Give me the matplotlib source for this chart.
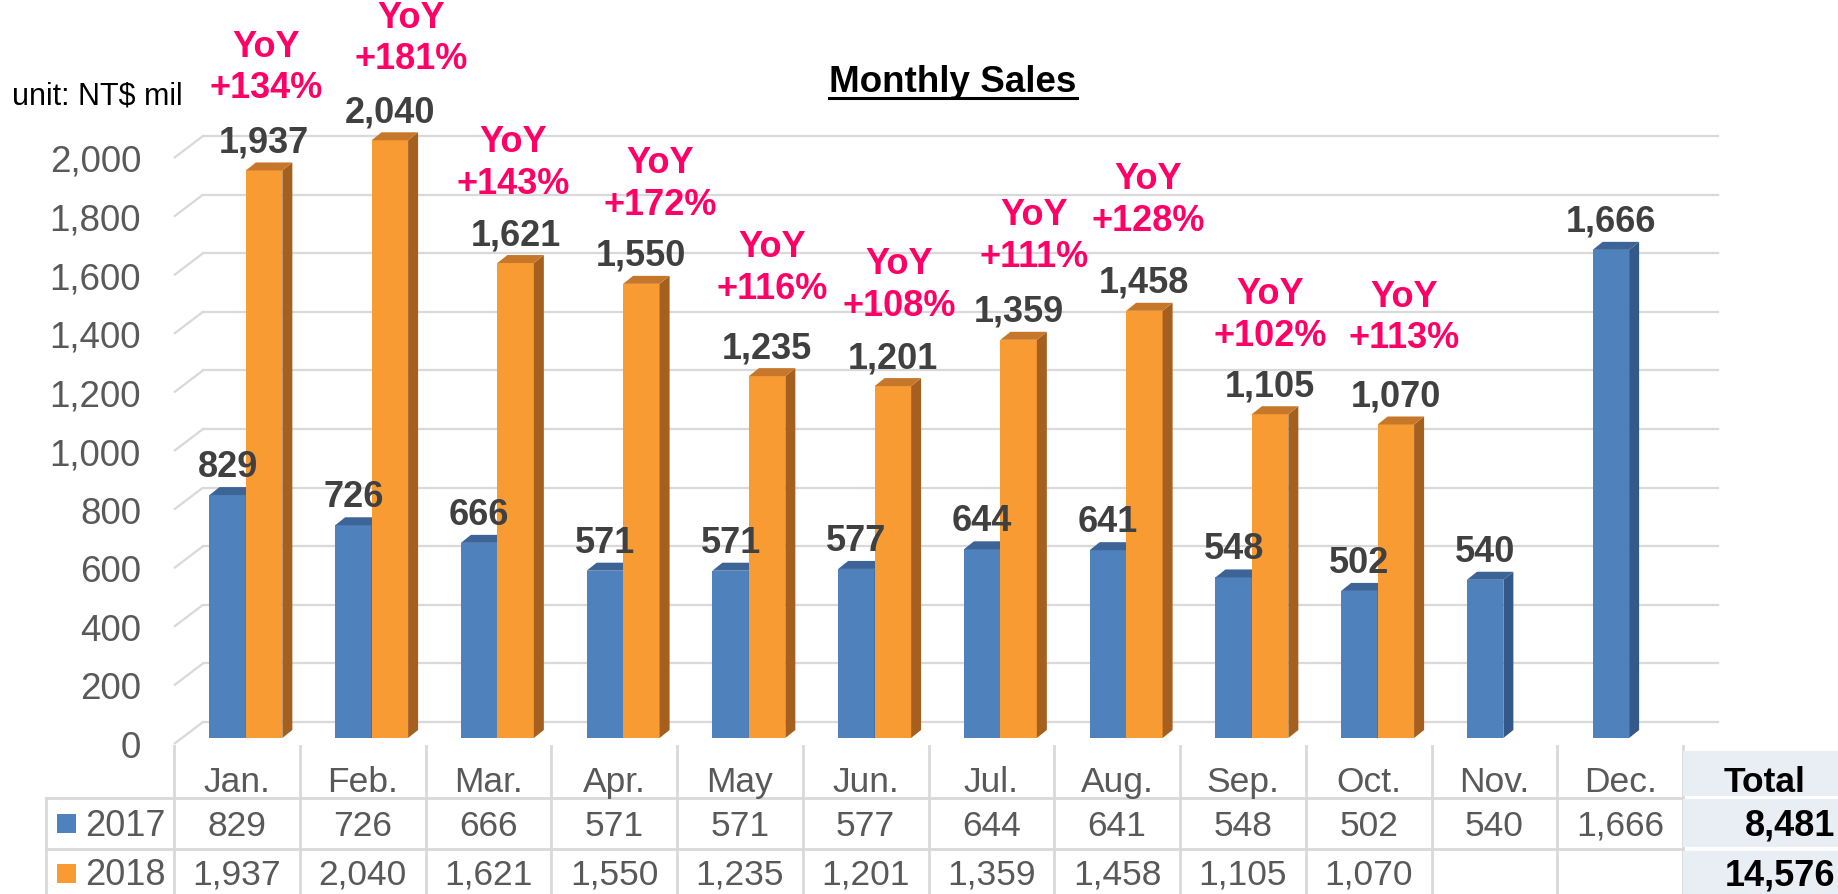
import numpy as np
import matplotlib
matplotlib.use('Agg')
import matplotlib.pyplot as plt
from matplotlib.patches import Polygon, Rectangle

plt.rcParams['font.family'] = ['Liberation Sans', 'DejaVu Sans']

months = ['Jan.', 'Feb.', 'Mar.', 'Apr.', 'May', 'Jun.', 'Jul.', 'Aug.', 'Sep.', 'Oct.', 'Nov.', 'Dec.']
sales_2017 = [829, 726, 666, 571, 571, 577, 644, 641, 548, 502, 540, 1666]
sales_2018 = [1937, 2040, 1621, 1550, 1235, 1201, 1359, 1458, 1105, 1070]
yoy_pct = [134, 181, 143, 172, 116, 108, 111, 128, 102, 113]
yticks = np.arange(0, 2001, 200)

# hand placed YoY boxes in the original (px nudges)
yoy_dx = [2, 21, -2, 19, 5, 6, 16, 4, 0, 8]
yoy_dy = [75, 74, 72, 72, 80, 73, 76, 83, 71, 79]

W, H = 1838, 895
PT = 0.72  # points per px at dpi 100

blue, blue_side, blue_top = '#4F81BD', '#345887', '#3C6497'
orng, orng_side, orng_top = '#F99B33', '#A5601F', '#C7772A'
grid_c = '#D9D9D9'
txt_c = '#595959'
lbl_c = '#404040'
yoy_c = '#FF0066'

fig = plt.figure(figsize=(W / 100, H / 100), dpi=100)

# pixel layer for the table and texts (y down)
lay = fig.add_axes([0, 0, 1, 1], zorder=0)
lay.set_xlim(0, W)
lay.set_ylim(H, 0)
lay.axis('off')

# chart layer: x in month columns, y in NT$ mil on the front plane
ax = fig.add_axes([0, 0, 1, 1], zorder=1)
ax.patch.set_alpha(0)
x0, colw = 174, 125.75
y0, vs = 745, 0.293
ax.set_xlim(-x0 / colw, (W - x0) / colw)
ax.set_ylim((y0 - H) / vs, y0 / vs)
ax.axis('off')

wdx, wdy = 29 / colw, 22 / vs      # back wall depth
bdx, bdy = 9 / colw, 6 / vs        # bars sit a bit behind the front edge
sdx, sdy = 10 / colw, 8 / vs       # bar thickness
w = 0.29
xend = (1718 - x0) / colw

# gridlines on the back wall + slanted side edge
for v in yticks:
    ax.plot([0, wdx], [v, v + wdy], color=grid_c, lw=1.6, zorder=1, solid_capstyle='butt')
    ax.plot([wdx, xend], [v + wdy, v + wdy], color=grid_c, lw=1.6, zorder=1)
    ax.annotate(f'{v:,}', (-33 / colw, v), xytext=(0, -13 * PT), textcoords='offset points',
                ha='right', va='baseline', fontsize=26.5, color=txt_c)

idx = np.arange(len(months))
x17 = idx + 0.5 - w + bdx
x18 = idx[:len(sales_2018)] + 0.5 + bdx


def bars3d(xl, vals, front, side, top, z):
    ax.bar(xl, vals, width=w, bottom=bdy, align='edge', color=front, zorder=z)
    for l, v in zip(xl, vals):
        r, b, t = l + w, bdy, bdy + v
        ax.add_patch(Polygon([(r, b), (r + sdx, b + sdy), (r + sdx, t + sdy), (r, t)],
                             closed=True, fc=side, ec='none', zorder=z))
        ax.add_patch(Polygon([(l, t), (r, t), (r + sdx, t + sdy), (l + sdx, t + sdy)],
                             closed=True, fc=top, ec='none', zorder=z))
        ax.annotate(f'{v:,}', (l + w / 2, t), xytext=(0, 19 * PT), textcoords='offset points',
                    ha='center', va='baseline', fontsize=26, fontweight='bold', color=lbl_c, zorder=6)


bars3d(x17, sales_2017, blue, blue_side, blue_top, 3)
bars3d(x18, sales_2018, orng, orng_side, orng_top, 4)

for i, p in enumerate(yoy_pct):
    xc, t = x18[i] + w / 2, bdy + sales_2018[i]
    up = 32 + yoy_dy[i]
    ax.annotate(f'+{p}%', (xc, t), xytext=(yoy_dx[i] * PT, (up - 20.75 - 13) * PT),
                textcoords='offset points', ha='center', va='baseline',
                fontsize=26, fontweight='bold', color=yoy_c, zorder=6)
    ax.annotate('YoY', (xc, t), xytext=(yoy_dx[i] * PT, (up + 20.75 - 13) * PT),
                textcoords='offset points', ha='center', va='baseline',
                fontsize=26, fontweight='bold', color=yoy_c, zorder=6)

# title and unit
title = lay.text(953, 92, 'Monthly Sales', ha='center', va='baseline', fontsize=26.5, fontweight='bold')
lay.text(12, 104, 'unit: NT$ mil', ha='left', va='baseline', fontsize=22, color='black')

# data table
tl = 46
lay.plot([tl, x0 + 12 * colw], [799, 799], color=grid_c, lw=2)
lay.plot([tl, x0 + 12 * colw], [850, 850], color=grid_c, lw=2)
lay.plot([tl, tl], [799, H], color=grid_c, lw=2)
for k in range(13):
    lay.plot([x0 + k * colw] * 2, [747, H], color=grid_c, lw=2)

for i, m in enumerate(months):
    cx = x0 + (i + 0.5) * colw
    lay.text(cx, 792, m, ha='center', va='baseline', fontsize=25.5, color=txt_c)
    lay.text(cx, 836, f'{sales_2017[i]:,}', ha='center', va='baseline', fontsize=25.5, color=txt_c)
    if i < len(sales_2018):
        lay.text(cx, 885, f'{sales_2018[i]:,}', ha='center', va='baseline', fontsize=25.5, color=txt_c)

lay.add_patch(Rectangle((57, 815), 19, 19, fc=blue, ec='none'))
lay.add_patch(Rectangle((57, 865), 19, 19, fc=orng, ec='none'))
lay.text(85, 836, '2017', ha='left', va='baseline', fontsize=26, color=txt_c)
lay.text(85, 885, '2018', ha='left', va='baseline', fontsize=26, color=txt_c)

# totals column
tx = x0 + 12 * colw
for top_, bot_ in [(752, 797), (800, 848), (852, H)]:
    lay.add_patch(Rectangle((tx, top_), W - tx, bot_ - top_, fc='#E9EDF4', ec='none', zorder=2))
lay.text(1765, 792, 'Total', ha='center', va='baseline', fontsize=25.5, fontweight='bold', zorder=3)
lay.text(W - 3, 836, f'{sum(sales_2017):,}', ha='right', va='baseline', fontsize=26, fontweight='bold', zorder=3)
lay.text(W - 3, 886, f'{sum(sales_2018):,}', ha='right', va='baseline', fontsize=26, fontweight='bold', zorder=3)

# underline the title
fig.canvas.draw()
bb = title.get_window_extent().transformed(lay.transData.inverted())
lay.plot([bb.x0, bb.x1], [99, 99], color='black', lw=2.2)

fig.savefig('out.png', dpi=100)
